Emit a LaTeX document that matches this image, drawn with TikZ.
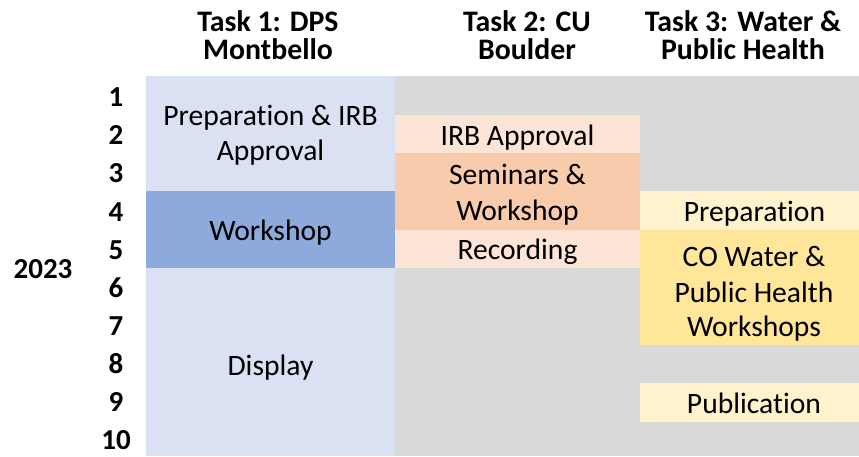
\documentclass[tikz,border=0pt]{standalone}
\usepackage{fontspec}
\setmainfont{Carlito}[Ligatures=NoCommon]
\definecolor{bluelight}{HTML}{DAE1F2}
\definecolor{bluedark}{HTML}{8EA9DB}
\definecolor{greybg}{HTML}{D9D9D9}
\definecolor{orangelight}{HTML}{FCE4D6}
\definecolor{orangemid}{HTML}{F8CBAD}
\definecolor{yellowlight}{HTML}{FFF2CC}
\definecolor{yellowmid}{HTML}{FFE699}
\tikzset{
  lbl/.style={anchor=base, inner sep=0pt, font=\fontsize{29.6}{36}\selectfont, text=black},
  hdr/.style={anchor=base, inner sep=0pt, font=\fontsize{29.8}{36}\selectfont\bfseries, text=black},
  num/.style={anchor=base, inner sep=0pt, font=\fontsize{29}{36}\selectfont\bfseries, text=black}
}
\begin{document}
\begin{tikzpicture}[x=1pt,y=-1pt]
\useasboundingbox (0,0) rectangle (859,456);
% backgrounds
\fill[greybg] (395,76) rectangle (859,456);
\fill[bluelight] (146,76) rectangle (395,456);
\fill[bluedark] (146,191.3) rectangle (395,267.8);
\fill[orangelight] (395,114.7) rectangle (640,152.8);
\fill[orangemid] (395,152.8) rectangle (640,229.6);
\fill[orangelight] (395,229.6) rectangle (640,267.8);
\fill[yellowlight] (640,191.2) rectangle (859,229.8);
\fill[yellowmid] (640,229.8) rectangle (859,344.8);
\fill[yellowlight] (640,382.8) rectangle (859,421.5);
% headers
\node[hdr] (h1a) at (268,31.7) {Task 1: DPS};
\node[hdr] (h1b) at (268,59.3) {Montbello};
\node[hdr] (h2a) at (527,31.7) {Task 2: CU};
\node[hdr] (h2b) at (527,59.3) {Boulder};
\node[hdr] (h3a) at (743,31.7) {Task 3: Water \&};
\node[hdr] (h3b) at (743,59.3) {Public Health};
% row labels
\node[num] (yr) at (43,278.3) {2023};
\foreach \i in {1,...,10} {
  \node[num] (r\i) at (116,{106.7+38.1*(\i-1)}) {\i};
}
% task 1
\node[lbl] (t1a) at (270.5,125) {Preparation \& IRB};
\node[lbl] (t1b) at (270.5,160.5) {Approval};
\node[lbl] (t1c) at (270.5,240) {Workshop};
\node[lbl] (t1d) at (270.5,375) {Display};
% task 2
\node[lbl] (t2a) at (517.5,145) {IRB Approval};
\node[lbl] (t2b) at (517.5,184.3) {Seminars \&};
\node[lbl] (t2c) at (517.5,220.7) {Workshop};
\node[lbl] (t2d) at (517.5,259.3) {Recording};
% task 3
\node[lbl] (t3a) at (754.5,221.7) {Preparation};
\node[lbl] (t3b) at (754,266) {CO Water \&};
\node[lbl] (t3c) at (754,302) {Public Health};
\node[lbl] (t3d) at (754,336.7) {Workshops};
\node[lbl] (t3e) at (754,413.3) {Publication};
\end{tikzpicture}
\end{document}
